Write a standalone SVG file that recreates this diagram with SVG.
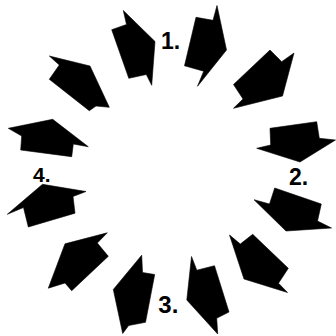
<svg xmlns="http://www.w3.org/2000/svg" width="336" height="336" viewBox="0 0 336 336">
<style>
.arrow{fill:#000;stroke:#000;stroke-width:0.6;stroke-linejoin:round}
.lbl{font-family:"Liberation Sans",Arial,sans-serif;font-weight:bold;fill:#000}
</style>
<rect width="336" height="336" fill="#fff"/>
<g id="arrows">
<g id="a1"><polygon class="arrow" points="123.3,10.5 126.5,24.5 111.7,29.7 128.8,78.3 146.3,74.5 151.7,85.3 155,41.5"/></g>
<g id="a2"><polygon class="arrow" points="217,5.5 213,20.3 196,17.3 184.5,65.8 203.7,71.2 197.5,86.3 226.5,50"/></g>
<g id="a3"><polygon class="arrow" points="233.5,84.5 270,50 281.7,61.7 294,53 282.5,96 233.5,108.3 243,99"/></g>
<g id="a4"><polygon class="arrow" points="270,128.3 316.7,121.7 319.3,138.3 335.5,140 300,162 256.7,148.3 270.7,145"/></g>
<g id="a5"><polygon class="arrow" points="274.7,188 321.3,204 317.5,221 331.5,228 286,231 254,199.7 269.5,204"/></g>
<g id="a6"><polygon class="arrow" points="252.7,234.3 288.3,268.3 278.5,283.2 287.5,292.5 244,279 229.5,235 240.3,244"/></g>
<g id="a7"><polygon class="arrow" points="191.5,256.5 196.8,270.2 214.5,265.7 229,312 216.7,318.2 217.7,334 186.8,300"/></g>
<g id="a8"><polygon class="arrow" points="141.7,255.2 142.5,272.5 154.7,274.5 145.5,322.3 128.7,325.5 122.7,333.5 113.3,289.5"/></g>
<g id="a9"><polygon class="arrow" points="65,243.8 107.3,232.8 97.3,243 108.3,256.3 71.7,290.7 65,283 48.3,288.2"/></g>
<g id="a10"><polygon class="arrow" points="7.3,214.3 23.5,207.5 28.3,227 75,213.2 73,196.5 86,191.5 42.5,184.3"/></g>
<g id="a11"><polygon class="arrow" points="8.3,128.3 21.7,136 20.7,150 71.7,156.7 73.3,144 88.3,146.7 52.7,119.3"/></g>
<g id="a12"><polygon class="arrow" points="49.3,56 59.3,65 49.3,79.3 89.3,110.7 96,106 109.3,107.3 90,66"/></g>
</g>
<g id="labels">
<text class="lbl" x="161" y="48.5" font-size="23">1.</text>
<text class="lbl" x="289" y="185" font-size="23">2.</text>
<text class="lbl" x="158.3" y="312.5" font-size="24">3.</text>
<text class="lbl" x="33" y="181.5" font-size="21">4.</text>
</g>
</svg>
